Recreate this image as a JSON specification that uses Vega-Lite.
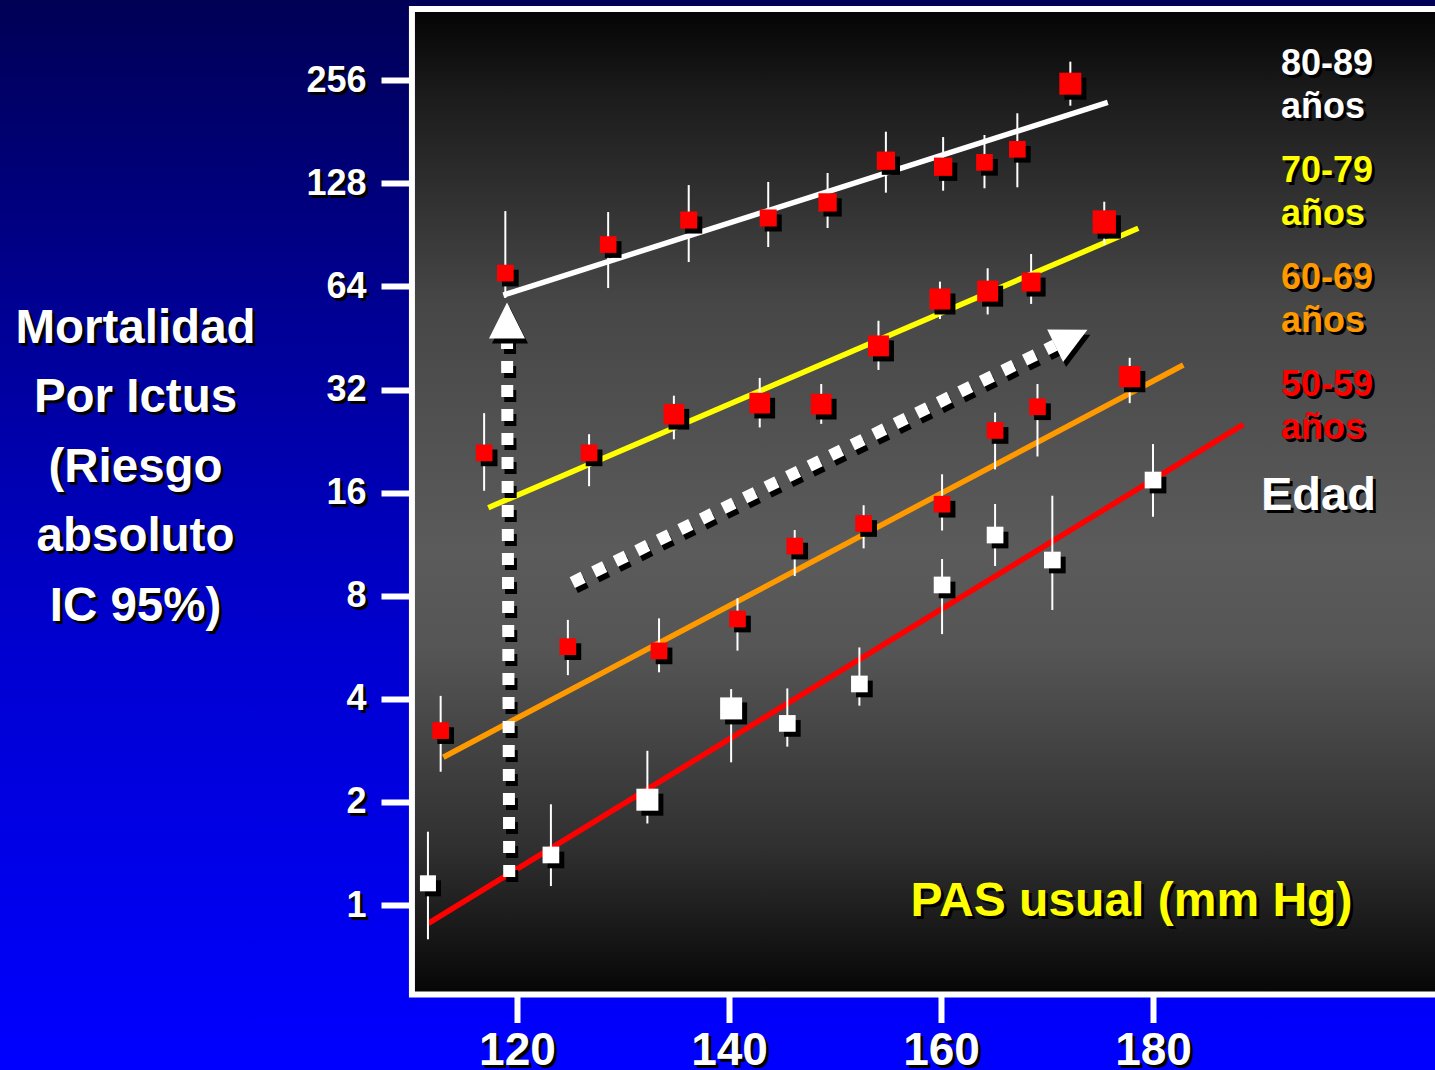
{
  "$schema": "https://vega.github.io/schema/vega-lite/v6.json",
  "width": 1435,
  "height": 1070,
  "autosize": {"type": "none"},
  "padding": 0,
  "background": "#0000a0",
  "config": {
    "font": "Liberation Sans",
    "style": {"guide-label": {"lineHeight": 43}},
    "view": {
      "stroke": null,
      "fill": {
        "gradient": "linear", "x1": 0, "y1": 0, "x2": 0, "y2": 1,
        "stops": [
          {"offset": 0, "color": "#000055"},
          {"offset": 0.3, "color": "#000095"},
          {"offset": 0.6, "color": "#0000cf"},
          {"offset": 0.95, "color": "#0000fa"},
          {"offset": 1, "color": "#0000ff"}
        ]
      }
    }
  },
  "datasets": {
    "puntos": [
      {"edad": "80-89", "pas": 118.9, "riesgo": 70.0, "lo": 59.2, "hi": 106.2, "peso": 1.15},
      {"edad": "80-89", "pas": 128.6, "riesgo": 84.8, "lo": 63.3, "hi": 105.5, "peso": 1.15},
      {"edad": "80-89", "pas": 136.2, "riesgo": 100.0, "lo": 75.4, "hi": 126.5, "peso": 1.2},
      {"edad": "80-89", "pas": 143.7, "riesgo": 101.4, "lo": 83.4, "hi": 129.2, "peso": 1.2},
      {"edad": "80-89", "pas": 149.3, "riesgo": 112.6, "lo": 94.8, "hi": 137.2, "peso": 1.38},
      {"edad": "80-89", "pas": 154.8, "riesgo": 149.0, "lo": 120.2, "hi": 181.1, "peso": 1.38},
      {"edad": "80-89", "pas": 160.2, "riesgo": 143.1, "lo": 121.8, "hi": 174.7, "peso": 1.38},
      {"edad": "80-89", "pas": 164.1, "riesgo": 147.4, "lo": 123.8, "hi": 177.1, "peso": 1.15},
      {"edad": "80-89", "pas": 167.2, "riesgo": 160.9, "lo": 124.6, "hi": 204.9, "peso": 1.15},
      {"edad": "80-89", "pas": 172.2, "riesgo": 250.1, "lo": 215.7, "hi": 290.0, "peso": 2.0},
      {"edad": "70-79", "pas": 116.9, "riesgo": 20.9, "lo": 16.2, "hi": 27.3, "peso": 1.15},
      {"edad": "70-79", "pas": 126.8, "riesgo": 20.9, "lo": 16.7, "hi": 23.7, "peso": 1.15},
      {"edad": "70-79", "pas": 134.8, "riesgo": 27.1, "lo": 22.9, "hi": 30.7, "peso": 1.77},
      {"edad": "70-79", "pas": 142.9, "riesgo": 29.2, "lo": 24.8, "hi": 34.6, "peso": 1.77},
      {"edad": "70-79", "pas": 148.7, "riesgo": 29.0, "lo": 25.4, "hi": 33.2, "peso": 1.77},
      {"edad": "70-79", "pas": 154.1, "riesgo": 42.9, "lo": 36.5, "hi": 50.8, "peso": 1.82},
      {"edad": "70-79", "pas": 159.9, "riesgo": 58.8, "lo": 51.4, "hi": 66.1, "peso": 1.82},
      {"edad": "70-79", "pas": 164.4, "riesgo": 62.0, "lo": 53.0, "hi": 72.3, "peso": 1.82},
      {"edad": "70-79", "pas": 168.5, "riesgo": 65.9, "lo": 56.9, "hi": 79.6, "peso": 1.49},
      {"edad": "70-79", "pas": 175.4, "riesgo": 98.7, "lo": 84.5, "hi": 113.1, "peso": 2.24},
      {"edad": "60-69", "pas": 112.8, "riesgo": 3.23, "lo": 2.45, "hi": 4.08, "peso": 1.15},
      {"edad": "60-69", "pas": 124.8, "riesgo": 5.68, "lo": 4.69, "hi": 6.8, "peso": 1.15},
      {"edad": "60-69", "pas": 133.4, "riesgo": 5.52, "lo": 4.78, "hi": 6.87, "peso": 1.15},
      {"edad": "60-69", "pas": 140.8, "riesgo": 6.84, "lo": 5.53, "hi": 7.86, "peso": 1.15},
      {"edad": "60-69", "pas": 146.2, "riesgo": 11.17, "lo": 9.13, "hi": 12.44, "peso": 1.15},
      {"edad": "60-69", "pas": 152.7, "riesgo": 13.0, "lo": 11.0, "hi": 14.7, "peso": 1.15},
      {"edad": "60-69", "pas": 160.1, "riesgo": 14.8, "lo": 12.4, "hi": 18.1, "peso": 1.15},
      {"edad": "60-69", "pas": 165.1, "riesgo": 24.3, "lo": 18.7, "hi": 27.4, "peso": 1.15},
      {"edad": "60-69", "pas": 169.1, "riesgo": 28.5, "lo": 20.4, "hi": 33.2, "peso": 1.15},
      {"edad": "60-69", "pas": 177.8, "riesgo": 34.9, "lo": 29.2, "hi": 39.6, "peso": 1.87},
      {"edad": "50-59", "pas": 111.6, "riesgo": 1.157, "lo": 0.794, "hi": 1.637, "peso": 1.06},
      {"edad": "50-59", "pas": 123.2, "riesgo": 1.40, "lo": 1.136, "hi": 1.968, "peso": 1.15},
      {"edad": "50-59", "pas": 132.3, "riesgo": 2.03, "lo": 1.73, "hi": 2.82, "peso": 2.0},
      {"edad": "50-59", "pas": 140.2, "riesgo": 3.75, "lo": 2.61, "hi": 4.27, "peso": 2.0},
      {"edad": "50-59", "pas": 145.5, "riesgo": 3.39, "lo": 2.9, "hi": 4.29, "peso": 1.15},
      {"edad": "50-59", "pas": 152.3, "riesgo": 4.42, "lo": 3.82, "hi": 5.65, "peso": 1.15},
      {"edad": "50-59", "pas": 160.1, "riesgo": 8.6, "lo": 6.18, "hi": 10.24, "peso": 1.15},
      {"edad": "50-59", "pas": 165.1, "riesgo": 12.03, "lo": 9.77, "hi": 14.82, "peso": 1.15},
      {"edad": "50-59", "pas": 170.5, "riesgo": 10.17, "lo": 7.27, "hi": 15.67, "peso": 1.15},
      {"edad": "50-59", "pas": 180.0, "riesgo": 17.41, "lo": 13.6, "hi": 22.18, "peso": 1.15}
    ],
    "rectas": [
      {"edad": "80-89", "pas": 118.71, "riesgo": 60.4},
      {"edad": "80-89", "pas": 175.73, "riesgo": 220.7},
      {"edad": "70-79", "pas": 117.29, "riesgo": 14.46},
      {"edad": "70-79", "pas": 178.61, "riesgo": 94.6},
      {"edad": "60-69", "pas": 113.05, "riesgo": 2.70},
      {"edad": "60-69", "pas": 182.86, "riesgo": 37.73},
      {"edad": "50-59", "pas": 111.63, "riesgo": 0.884},
      {"edad": "50-59", "pas": 188.52, "riesgo": 25.32}
    ],
    "flechas": [
      {"flecha": "vertical", "orden": 1, "pas": 119.27, "riesgo": 1.207},
      {"flecha": "vertical", "orden": 2, "pas": 119.06, "riesgo": 45.24},
      {"flecha": "diagonal", "orden": 1, "pas": 125.22, "riesgo": 8.74},
      {"flecha": "diagonal", "orden": 2, "pas": 170.75, "riesgo": 43.1}
    ],
    "puntas": [
      {"flecha": "vertical", "pas": 119.06, "riesgo": 50.9},
      {"flecha": "diagonal", "pas": 172.29, "riesgo": 45.3}
    ]
  },
  "resolve": {"axis": {"x": "independent", "y": "independent"}},
  "layer": [
    {
      "data": {"values": [{}]},
      "mark": {
        "type": "rect", "stroke": "white", "strokeWidth": 6,
        "fill": {
          "gradient": "linear", "x1": 0, "y1": 0, "x2": 0, "y2": 1,
          "stops": [
            {"offset": 0, "color": "#040404"},
            {"offset": 0.09, "color": "#1c1c1c"},
            {"offset": 0.3, "color": "#474747"},
            {"offset": 0.55, "color": "#5b5b5b"},
            {"offset": 0.65, "color": "#555555"},
            {"offset": 0.78, "color": "#3d3d3d"},
            {"offset": 0.85, "color": "#303030"},
            {"offset": 1, "color": "#060606"}
          ]
        }
      },
      "encoding": {
        "x": {
          "datum": 110.09, "type": "quantitative",
          "scale": {"domain": [71.23, 206.6], "nice": false, "zero": false},
          "axis": {
            "orient": "bottom", "offset": -72.5, "zindex": 1,
            "values": [120, 140, 160, 180], "format": "d",
            "domain": false, "grid": false,
            "tickOpacity": 0, "tickWidth": 6, "tickSize": 28,
            "labelColor": "black", "labelFont": "Liberation Sans", "labelFontSize": 46, "labelFontWeight": "bold",
            "labelPadding": 6, "labelOffset": 3, "labelFlush": false, "labelOverlap": false,
            "title": "PAS usual (mm Hg)",
            "titleColor": "black", "titleFont": "Liberation Sans", "titleFontSize": 48, "titleFontWeight": "bold",
            "titleX": 1134, "titleY": -93, "titleAlign": "center", "titleBaseline": "middle", "titleAngle": 0
          }
        },
        "x2": {"datum": 215},
        "y": {
          "datum": 413, "type": "quantitative",
          "scale": {"type": "log", "base": 2, "domain": [0.3298, 439], "nice": false},
          "axis": {
            "orient": "left", "offset": -415, "zindex": 1,
            "values": [1, 2, 4, 8, 16, 32, 64, 128, 256], "format": "d",
            "domain": false, "grid": false,
            "tickOpacity": 0, "tickWidth": 6, "tickSize": 31,
            "labelColor": "black", "labelFont": "Liberation Sans", "labelFontSize": 36, "labelFontWeight": "bold",
            "labelPadding": 15, "labelOffset": 3, "labelFlush": false, "labelOverlap": false,
            "title": ["Mortalidad", "Por Ictus", "(Riesgo", "absoluto", "IC 95%)"],
            "titleColor": "black", "titleFont": "Liberation Sans", "titleFontSize": 47.5, "titleFontWeight": "bold",
            "titleLineHeight": 69.4, "titleAngle": 0, "titleAlign": "center", "titleBaseline": "middle",
            "titleX": -277, "titleY": 331.5
          }
        },
        "y2": {"datum": 0.548}
      }
    },
    {
      "encoding": {
        "x": {
          "field": "pas", "type": "quantitative",
          "scale": {"domain": [71.23, 206.6], "nice": false, "zero": false},
          "axis": {
            "orient": "bottom", "offset": -75.5, "zindex": 2,
            "values": [120, 140, 160, 180], "format": "d",
            "domain": false, "grid": false,
            "tickColor": "white", "tickWidth": 6, "tickSize": 28, "tickCap": "butt",
            "labelColor": "white", "labelFont": "Liberation Sans", "labelFontSize": 46, "labelFontWeight": "bold",
            "labelPadding": 6, "labelFlush": false, "labelOverlap": false,
            "title": "PAS usual (mm Hg)",
            "titleColor": "#ffff00", "titleFont": "Liberation Sans", "titleFontSize": 48, "titleFontWeight": "bold",
            "titleX": 1131, "titleY": -93, "titleAlign": "center", "titleBaseline": "middle", "titleAngle": 0
          }
        },
        "y": {
          "field": "riesgo", "type": "quantitative",
          "scale": {"type": "log", "base": 2, "domain": [0.3298, 439], "nice": false},
          "axis": {
            "orient": "left", "offset": -412, "zindex": 2,
            "values": [1, 2, 4, 8, 16, 32, 64, 128, 256], "format": "d",
            "domain": false, "grid": false,
            "tickColor": "white", "tickWidth": 6, "tickSize": 31, "tickCap": "butt",
            "labelColor": "white", "labelFont": "Liberation Sans", "labelFontSize": 36, "labelFontWeight": "bold",
            "labelPadding": 15, "labelFlush": false, "labelOverlap": false,
            "title": ["Mortalidad", "Por Ictus", "(Riesgo", "absoluto", "IC 95%)"],
            "titleColor": "white", "titleFont": "Liberation Sans", "titleFontSize": 47.5, "titleFontWeight": "bold",
            "titleLineHeight": 69.4, "titleAngle": 0, "titleAlign": "center", "titleBaseline": "middle",
            "titleX": -277, "titleY": 328.5
          }
        }
      },
      "layer": [
        {
          "data": {"name": "rectas"},
          "mark": {"type": "point", "opacity": 0},
          "encoding": {
            "shape": {
              "field": "edad", "type": "nominal", "sort": "descending",
              "legend": {
                "orient": "none", "legendX": 1264, "legendY": 49, "direction": "vertical",
                "title": "Edad", "titleOrient": "bottom", "titleAnchor": "start", "titleAlign": "left",
                "titleColor": "black", "titleFont": "Liberation Sans", "titleFontSize": 47, "titleFontWeight": "bold",
                "titlePadding": 27, "padding": 0, "rowPadding": 28,
                "symbolSize": 0, "symbolStrokeWidth": 0, "symbolOpacity": 0,
                "labelOffset": -16, "labelColor": "black", "labelFont": "Liberation Sans", "labelFontSize": 36, "labelFontWeight": "bold",
                "labelLimit": 0, "labelExpr": "[datum.label, 'años']",
                "zindex": 1,
                "encode": {"labels": {"update": {"fill": {"value": "black"}, "lineHeight": {"value": 43}}}}
              }
            }
          }
        },
        {
          "data": {"name": "rectas"},
          "mark": {"type": "line", "strokeWidth": 5.5},
          "encoding": {
            "color": {
              "field": "edad", "type": "nominal",
              "scale": {"domain": ["80-89", "70-79", "60-69", "50-59"], "range": ["#ffffff", "#ffff00", "#ff9900", "#ff0000"]},
              "legend": {
                "orient": "none", "legendX": 1261, "legendY": 46, "direction": "vertical",
                "title": "Edad", "titleOrient": "bottom", "titleAnchor": "start", "titleAlign": "left",
                "titleColor": "white", "titleFont": "Liberation Sans", "titleFontSize": 47, "titleFontWeight": "bold",
                "titlePadding": 27, "padding": 0, "rowPadding": 28,
                "symbolSize": 0, "symbolStrokeWidth": 0, "symbolOpacity": 0,
                "labelOffset": -16, "labelFont": "Liberation Sans", "labelFontSize": 36, "labelFontWeight": "bold",
                "labelLimit": 0, "labelExpr": "[datum.label, 'años']",
                "zindex": 2,
                "encode": {"labels": {"update": {"fill": {"scale": "color", "field": "value"}, "lineHeight": {"value": 43}}}}
              }
            }
          }
        },
        {
          "data": {"name": "flechas"},
          "mark": {"type": "line", "color": "black", "strokeWidth": 12, "strokeDash": [12, 12], "strokeCap": "butt", "xOffset": 3, "yOffset": 5},
          "encoding": {"detail": {"field": "flecha"}, "order": {"field": "orden"}}
        },
        {
          "data": {"name": "flechas"},
          "mark": {"type": "line", "color": "white", "strokeWidth": 12, "strokeDash": [12, 12], "strokeCap": "butt"},
          "encoding": {"detail": {"field": "flecha"}, "order": {"field": "orden"}}
        },
        {
          "data": {"name": "puntas"},
          "mark": {"type": "point", "shape": "M-1,1L1,1L0,-1Z", "filled": true, "opacity": 1, "color": "black", "size": 1296, "xOffset": 3, "yOffset": 5},
          "encoding": {"angle": {"condition": {"test": "datum.flecha === 'diagonal'", "value": 63.8}, "value": 0}}
        },
        {
          "data": {"name": "puntas"},
          "mark": {"type": "point", "shape": "M-1,1L1,1L0,-1Z", "filled": true, "opacity": 1, "color": "white", "size": 1296},
          "encoding": {"angle": {"condition": {"test": "datum.flecha === 'diagonal'", "value": 63.8}, "value": 0}}
        },
        {
          "data": {"name": "puntos"},
          "mark": {"type": "rule", "color": "white", "strokeWidth": 2},
          "encoding": {"y": {"field": "lo", "type": "quantitative"}, "y2": {"field": "hi"}}
        },
        {
          "data": {"name": "puntos"},
          "mark": {"type": "square", "filled": true, "opacity": 1, "color": "black", "xOffset": 5, "yOffset": 5},
          "encoding": {
            "size": {"field": "peso", "type": "quantitative", "scale": {"domain": [0, 2], "range": [0, 484]}, "legend": null}
          }
        },
        {
          "data": {"name": "puntos"},
          "mark": {"type": "square", "filled": true, "opacity": 1},
          "encoding": {
            "size": {"field": "peso", "type": "quantitative", "scale": {"domain": [0, 2], "range": [0, 484]}, "legend": null},
            "color": {"condition": {"test": "datum.edad === '50-59'", "value": "#ffffff"}, "value": "#ff0000"}
          }
        }
      ]
    }
  ]
}
